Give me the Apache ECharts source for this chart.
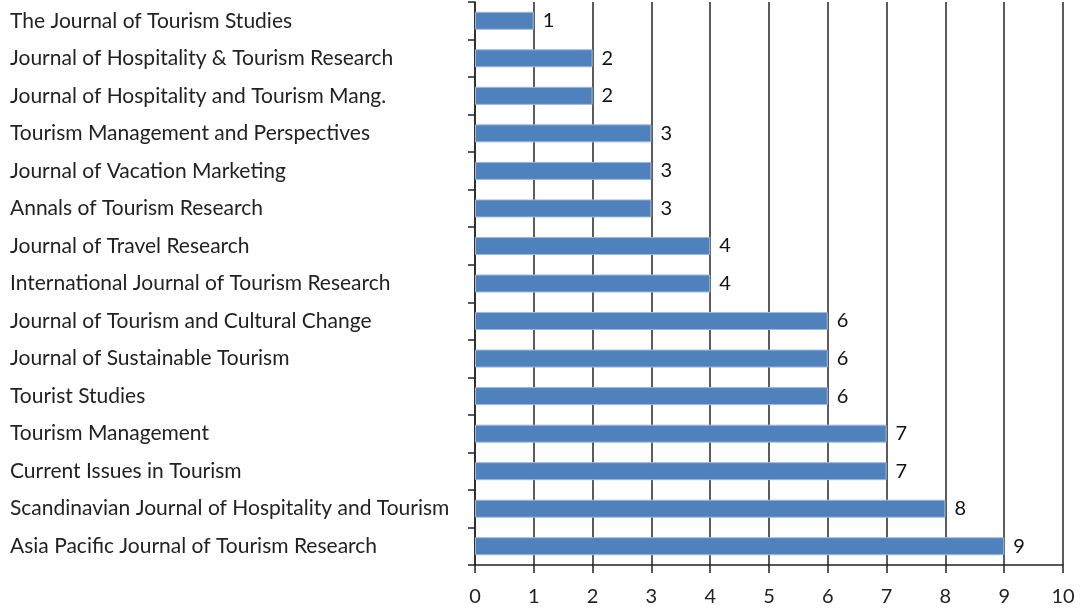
<!DOCTYPE html>
<html><head><meta charset="utf-8">
<script src="https://cdn.jsdelivr.net/npm/echarts@6/dist/echarts.min.js"></script>
<style>html,body{margin:0;padding:0;background:#fff}#c{width:1081px;height:609px}</style>
</head><body><div id="c"></div>
<script>
const categories = [
  "The Journal of Tourism Studies",
  "Journal of Hospitality & Tourism Research",
  "Journal of Hospitality and Tourism Mang.",
  "Tourism Management and Perspectives",
  "Journal of Vacation Marketing",
  "Annals of Tourism Research",
  "Journal of Travel Research",
  "International Journal of Tourism Research",
  "Journal of Tourism and Cultural Change",
  "Journal of Sustainable Tourism",
  "Tourist Studies",
  "Tourism Management",
  "Current Issues in Tourism",
  "Scandinavian Journal of Hospitality and Tourism",
  "Asia Pacific Journal of Tourism Research"
];
const values = [1, 2, 2, 3, 3, 3, 4, 4, 6, 6, 6, 7, 7, 8, 9];
const xTicks = [0, 1, 2, 3, 4, 5, 6, 7, 8, 9, 10];

const chart = echarts.init(document.getElementById('c'));
const font = 'Lato, sans-serif';
chart.setOption({
  animation: false,
  grid: { left: 475, right: 18, top: 2, bottom: 44, containLabel: false },
  xAxis: {
    type: 'value', min: xTicks[0], max: xTicks[xTicks.length - 1], interval: 1,
    axisLine: { show: true, lineStyle: { color: '#222', width: 1.5 } },
    axisTick: { show: true, length: 8, lineStyle: { color: '#222', width: 1.5 } },
    axisLabel: { color: '#222', fontFamily: font, fontSize: 20, margin: 22 },
    splitLine: { show: true, lineStyle: { color: '#333', width: 1.6 } }
  },
  yAxis: {
    type: 'category', data: categories, inverse: true,
    axisLine: { show: true, lineStyle: { color: '#222', width: 1.5 } },
    axisTick: { show: true, length: 7, lineStyle: { color: '#222', width: 1.5 } },
    axisLabel: { color: '#222', fontFamily: font, fontSize: 21, align: 'left', margin: 465, padding: [2, 0, 0, 0] }
  },
  series: [{
    type: 'bar', data: values, barWidth: 18,
    itemStyle: { color: '#4F81BD', borderColor: '#9DB9DE', borderWidth: 1 },
    label: { show: true, position: 'right', distance: 9, color: '#111', fontFamily: font, fontSize: 20 }
  }]
});
</script></body></html>
